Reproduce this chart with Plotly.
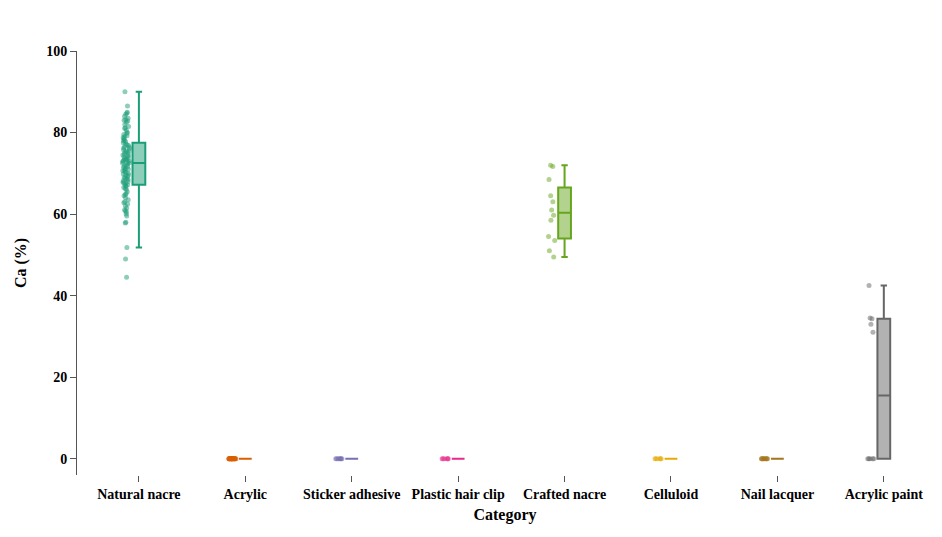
import plotly.graph_objects as go

categories = ["Natural nacre","Acrylic","Sticker adhesive","Plastic hair clip","Crafted nacre","Celluloid","Nail lacquer","Acrylic paint"]
colors = ["#1b9e77","#d95f02","#7570b3","#e7298a","#66a61e","#e6ab02","#a6761d","#666666"]

natural_nacre = [90,86.5,85,84.5,84,83.5,83,82.8,82.5,82,81.5,81,80.5,80,79.8,79.5,79,78.8,78.5,78,77.8,77.5,77.2,77,
 76.8,76.5,76.2,76,75.8,75.5,75.2,75,74.8,74.5,74.2,74,73.8,73.5,73.3,73.1,73,72.9,72.7,72.5,72.3,72,71.8,71.5,71.2,71,
 70.8,70.5,70.2,70,69.8,69.5,69.2,69,68.8,68.5,68.2,68,67.8,67.5,67.2,67,66.8,66.5,66,65.5,65,64.5,64,63.5,63,62.5,
 62,61.5,61,60.5,60,59.5,58,57.8,51.8,49,44.5,
 84.8,83.2,81.2,79.2,78.2,76.4,75.4,74.4,73.6,72.6,71.6,70.6,69.6,68.6,67.6,66.2,64.8,62.8,60.8]
acrylic = [0]*30
sticker_adhesive = [0]*8
plastic_hair_clip = [0]*6
crafted_nacre = [72,71.7,68.5,64.5,63,61,59.7,58.5,54.5,53.5,51,49.5]
celluloid = [0]*6
nail_lacquer = [0]*10
acrylic_paint = [42.5,34.5,34.3,33,31,0,0,0,0,0]
data = [natural_nacre,acrylic,sticker_adhesive,plastic_hair_clip,crafted_nacre,celluloid,nail_lacquer,acrylic_paint]

def rgba(h,a):
    h=h.lstrip('#'); return f"rgba({int(h[0:2],16)},{int(h[2:4],16)},{int(h[4:6],16)},{a})"

fig = go.Figure()
for cat,c,vals in zip(categories,colors,data):
    fig.add_trace(go.Box(y=vals,x=[cat]*len(vals),name=cat,boxpoints='all',jitter=0.6,pointpos=-2,
        marker=dict(color=rgba(c,0.5),size=5),line=dict(color=c,width=2),fillcolor=rgba(c,0.5),
        width=0.12,showlegend=False,quartilemethod='linear'))

font = dict(family="Liberation Serif",size=14,color="black")
fig.update_layout(width=942,height=537,plot_bgcolor="white",paper_bgcolor="white",
    margin=dict(l=65,r=17,t=43,b=70),font=font,
    xaxis=dict(title=dict(text="<b>Category</b>",font=dict(size=16),standoff=8),ticks="outside",ticklen=6,
        tickcolor="#555",showgrid=False,showline=False,categoryorder="array",categoryarray=categories,
        tickvals=categories,ticktext=[f"<b>{c}</b>" for c in categories]),
    yaxis=dict(title=dict(text="<b>Ca (%)</b>",font=dict(size=16)),range=[-4,100],tickvals=[0,20,40,60,80,100],
        ticktext=[f"<b>{v}</b>" for v in [0,20,40,60,80,100]],ticks="outside",ticklen=6,tickcolor="#555",
        showline=True,linecolor="#555",showgrid=False,zeroline=False))
fig.write_html("out.html")
